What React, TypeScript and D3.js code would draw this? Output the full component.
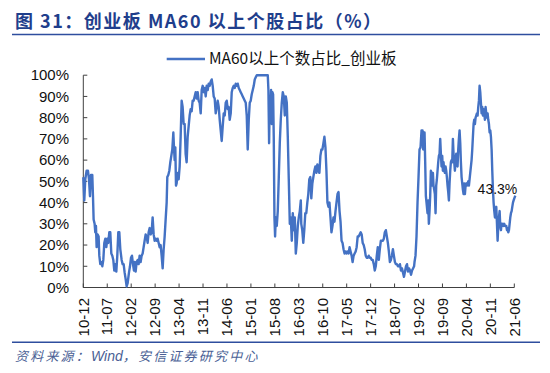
import React from "react";
import * as d3 from "d3";

// Tick labels (yy-mm), 7 months apart starting at 2010-12
const xTickLabels = ["10-12","11-07","12-02","12-09","13-04","13-11","14-06","15-01","15-08","16-03","16-10","17-05","17-12","18-07","19-02","19-09","20-04","20-11","21-06"];
const yTicks = [0,10,20,30,40,50,60,70,80,90,100];

// [months since 2010-12, share of ChiNext stocks above MA60 (%)]
const ma60Share2011_2013: [number, number][] = [
[0,52],[0.29,41],[0.58,51],[0.97,55],[1.36,55],[1.66,51],[1.95,43],[2.24,53],[2.63,53],[2.83,43],[3.02,32],[3.31,30],[3.51,26],[3.7,29],[3.9,19],[4.19,25],[4.48,24],[4.68,15],[4.97,11],[5.26,12],[5.56,10],[5.85,13],[6.14,21],[6.43,23],[6.73,19],[7.02,23],[7.31,21],[7.6,26],[7.89,26],[8.19,16],[8.48,15],[8.77,13],[9.06,8],[9.36,11],[9.65,7.5],[9.94,15],[10.23,26],[10.53,26],[10.82,18],[11.21,13],[11.5,11],[11.79,11],[12.09,7],[12.38,4],[12.67,0.5],[12.96,2],[13.35,7],[13.65,10],[13.94,14],[14.23,15],[14.52,11],[14.81,8],[15.01,12],[15.3,7.5],[15.59,12],[15.89,13],[16.18,11],[16.47,15],[16.76,12],[17.06,15],[17.35,16],[17.64,19],[17.93,22],[18.23,25],[18.52,24],[18.81,21],[19.1,26],[19.4,28],[19.69,25],[19.98,26],[20.27,33],[20.57,25],[20.86,22],[21.15,23],[21.44,22],[21.73,23],[22.03,21],[22.32,19],[22.61,20],[22.9,15],[23.2,9],[23.49,18],[23.78,24],[24.07,32],[24.37,40],[24.56,52],[24.85,53],[25.15,55],[25.44,59],[25.73,62],[26.02,65],[26.32,73],[26.51,66],[26.71,60],[26.9,66],[27.1,48],[27.29,49],[27.58,54],[27.88,51],[28.17,57],[28.46,71],[28.75,88],[29.04,85],[29.34,77],[29.63,77],[29.92,63],[30.21,59],[30.51,71],[30.8,76],[31.09,81],[31.38,84],[31.68,83],[31.97,88],[32.26,88]
];
const ma60Share2013_2016: [number, number][] = [
[32.85,92],[33.15,89],[33.44,92],[33.73,88],[34.02,87],[34.32,82],[34.61,93],[34.9,95],[35.2,92],[35.49,94],[35.78,90],[36.07,95],[36.37,93],[36.66,96],[36.95,95],[37.24,97],[37.54,98],[37.83,95],[38.12,90],[38.41,89],[38.71,82],[39,85],[39.29,88],[39.59,85],[39.88,79],[40.17,74],[40.46,69],[40.76,76],[41.05,82],[41.34,81],[41.63,87],[41.93,88],[42.22,84],[42.51,85],[42.8,79],[43.1,82],[43.39,92],[43.68,94],[43.98,95],[44.27,94],[44.56,96],[44.85,95],[45.15,96],[45.44,94],[45.73,93],[46.02,92],[46.32,91],[46.61,90],[46.9,89],[47.2,88],[47.49,87],[47.78,81],[48.07,65],[48.37,79],[48.66,87],[48.95,88],[49.24,91],[49.54,93],[49.83,95],[50.12,98],[50.41,99],[50.71,100],[51.59,100],[52.56,100],[53.93,100],[54.12,93],[54.32,68],[54.51,90],[54.71,84],[54.9,93],[55.1,77],[55.29,92],[55.49,91],[55.68,71],[55.88,33],[56.07,24],[56.27,33],[56.56,29],[56.85,36],[57.15,52],[57.44,68],[57.73,79],[58.02,87],[58.32,92],[58.61,90],[58.9,81],[59.2,90],[59.49,87],[59.78,71],[60.07,51],[60.37,30],[60.66,33],[60.95,22],[61.24,35],[61.54,27],[61.83,33],[62.12,16],[62.41,21],[62.71,29],[63,33],[63.29,36],[63.59,41]
];
const ma60Share2016_2019: [number, number][] = [
[63.72,30],[64.01,27],[64.31,21],[64.6,27],[64.9,35],[65.19,35],[65.49,40],[65.78,44],[66.07,51],[66.37,52],[66.66,42],[66.96,49],[67.25,52],[67.55,55],[67.84,57],[68.14,54],[68.43,58],[68.72,55],[69.02,54],[69.31,62],[69.61,65],[69.9,65],[70.2,68],[70.49,71],[70.79,66],[71.08,55],[71.37,40],[71.67,38],[71.96,40],[72.26,33],[72.55,26],[72.85,29],[73.14,33],[73.43,31],[73.73,36],[74.02,40],[74.32,44],[74.61,45],[74.91,36],[75.2,31],[75.5,22],[75.79,21],[76.08,18],[76.38,16],[76.67,17],[76.97,16],[77.26,17],[77.56,16],[77.85,19],[78.14,17],[78.44,15],[78.73,12],[79.03,15],[79.32,16],[79.62,17],[79.91,19],[80.21,24],[80.5,24],[80.79,25],[81.09,26],[81.38,25],[81.68,21],[81.97,20],[82.27,18],[82.56,15],[82.86,14],[83.15,14],[83.44,15],[83.74,14],[84.03,14],[84.33,13],[84.62,13],[84.92,11],[85.21,8],[85.5,10],[85.8,15],[86.09,19],[86.39,13],[86.68,18],[86.98,22],[87.27,22],[87.57,22],[87.86,23],[88.15,26],[88.45,27],[88.74,24],[89.04,21],[89.33,17],[89.63,12],[89.92,13],[90.21,15],[90.51,18],[90.8,15],[91.1,12],[91.39,11],[91.69,11],[91.98,10],[92.28,10],[92.57,11],[92.87,8],[93.16,9],[93.46,7],[93.75,5],[94.05,7.5],[94.34,10],[94.63,11],[94.93,7.5],[95.22,9],[95.52,8],[95.81,6],[96.11,8],[96.4,9],[96.7,10]
];
const ma60Share2019_2021: [number, number][] = [
[96.83,12],[97.12,15],[97.41,24],[97.71,40],[98,52],[98.29,65],[98.59,66],[98.88,74],[99.17,74],[99.37,65],[99.56,73],[99.76,73],[99.95,59],[100.15,43],[100.34,40],[100.63,35],[100.83,41],[101.02,30],[101.22,36],[101.41,43],[101.61,55],[101.8,54],[102,48],[102.2,54],[102.39,48],[102.59,46],[102.78,44],[102.98,35],[103.17,48],[103.37,51],[103.56,55],[103.76,59],[103.95,62],[104.15,63],[104.34,70],[104.54,63],[104.73,57],[104.93,62],[105.12,55],[105.32,59],[105.51,55],[105.71,54],[105.9,57],[106.1,55],[106.29,52],[106.49,48],[106.68,45],[106.88,41],[107.07,49],[107.27,55],[107.46,59],[107.66,60],[107.85,59],[108.05,70],[108.24,63],[108.44,59],[108.63,55],[108.83,59],[109.02,63],[109.22,62],[109.41,57],[109.61,65],[109.8,70],[110,74],[110.2,68],[110.39,59],[110.59,52],[110.78,49],[110.98,46],[111.17,44],[111.37,49],[111.56,44],[111.76,48],[111.95,49],[112.15,48],[112.34,49],[112.54,50],[112.73,48],[112.93,51],[113.12,54],[113.32,57],[113.51,60],[113.71,65],[113.9,71],[114.1,77],[114.29,79],[114.49,77],[114.68,80],[114.88,81],[115.07,82],[115.27,81],[115.46,85],[115.66,88],[115.85,95],[116.05,92],[116.24,87],[116.44,82],[116.63,85],[116.83,81],[117.02,84],[117.22,82],[117.41,79],[117.61,85],[117.8,82],[118,80],[118.2,82],[118.39,79],[118.59,77],[118.78,73],[118.98,74],[119.17,71],[119.37,65],[119.56,55],[119.76,46],[119.95,40],[120.15,36],[120.34,33],[120.54,35],[120.73,38],[120.93,30],[121.12,22],[121.32,29],[121.51,33],[121.71,36],[121.9,29],[122.1,27],[122.29,30],[122.49,29],[122.68,30],[122.88,29],[123.07,30],[123.27,29],[123.46,29],[123.66,29],[123.85,27],[124.05,28],[124.24,26],[124.44,27],[124.63,30],[124.83,33],[125.02,35],[125.22,36],[125.41,38],[125.61,40],[125.8,41],[126,42],[126.3,43.3]
];

const titleText = "图 31：创业板 MA60 以上个股占比（%）";
const legendText = "MA60以上个数占比_创业板";
const sourceParts = ["资料来源：", "Wind", "，安信证券研究中心"];
const lastLabel = "43.3%";

const LINE = "#4472C4";
const SANS = "'Liberation Sans', Arial, 'Noto Sans CJK SC', sans-serif";
const CJK = "'Noto Sans CJK SC', 'Liberation Sans', sans-serif";

function labelToMonth(l: string) {
  const [yy, mm] = l.split("-").map(Number);
  return (yy - 10) * 12 + (mm - 12);
}

export default function App() {
  const data = [...ma60Share2011_2013, ...ma60Share2013_2016, ...ma60Share2016_2019, ...ma60Share2019_2021];
  const x = d3.scaleLinear().domain([0, 126]).range([83.3, 514.3]);
  const y = d3.scaleLinear().domain([0, 100]).range([287.5, 75.2]);
  const line = d3.line<[number, number]>().x(d => x(d[0])).y(d => y(d[1])).curve(d3.curveLinear);
  const last = data[data.length - 1];
  const axisColor = "#404040";
  return (
    <svg width={550} height={373} style={{ position: "absolute", left: 0, top: 0, background: "#fff" }}>
      <text x={15} y={27.5} fontFamily={CJK} fontWeight="bold" fontSize={18} fill="#1F3E8C" letterSpacing={1.5}>{titleText}</text>
      <line x1={12} x2={540} y1={34.5} y2={34.5} stroke="#2E4E9E" strokeWidth={1.6} />

      <line x1={166.7} x2={205} y1={59} y2={59} stroke={LINE} strokeWidth={2.5} />
      <text x={209} y={59} dy="0.35em" fontFamily={CJK} fontSize={15.5} fill="#111">{legendText}</text>

      <line x1={x(0)} x2={x(0)} y1={y(0)} y2={y(100)} stroke={axisColor} strokeWidth={1} />
      {yTicks.map(t => (
        <g key={t}>
          <line x1={x(0)} x2={x(0) + 4} y1={y(t)} y2={y(t)} stroke={axisColor} />
          <text x={69} y={y(t)} dy="0.35em" textAnchor="end" fontFamily={SANS} fontSize={15} fill="#111">{t}%</text>
        </g>
      ))}
      <line x1={x(0)} x2={x(126)} y1={y(0)} y2={y(0)} stroke={axisColor} strokeWidth={1} />
      {xTickLabels.map(l => {
        const px = x(labelToMonth(l));
        return (
          <g key={l}>
            <line x1={px} x2={px} y1={y(0)} y2={y(0) - 4} stroke={axisColor} />
            <text transform={`translate(${px},298) rotate(-90)`} dy="0.35em" textAnchor="end" fontFamily={SANS} fontSize={15} fill="#111">{l}</text>
          </g>
        );
      })}

      <path d={line(data) || ""} fill="none" stroke={LINE} strokeWidth={2.4} strokeLinejoin="round" />
      <text x={x(last[0]) + 2} y={y(last[1])} dy="-0.1em" textAnchor="end" fontFamily={SANS} fontSize={14} fill="#111">{lastLabel}</text>

      <line x1={12} x2={540} y1={342.3} y2={342.3} stroke="#2E4E9E" strokeWidth={1.4} />
      <text x={15} y={361} fontFamily={CJK} fontStyle="italic" fontSize={13} fill="#4A5F95">
        <tspan letterSpacing={2.2}>{sourceParts[0]}</tspan>
        <tspan fontFamily={SANS} fontSize={14} letterSpacing={0}>{sourceParts[1]}</tspan>
        <tspan letterSpacing={2.2}>{sourceParts[2]}</tspan>
      </text>
    </svg>
  );
}
